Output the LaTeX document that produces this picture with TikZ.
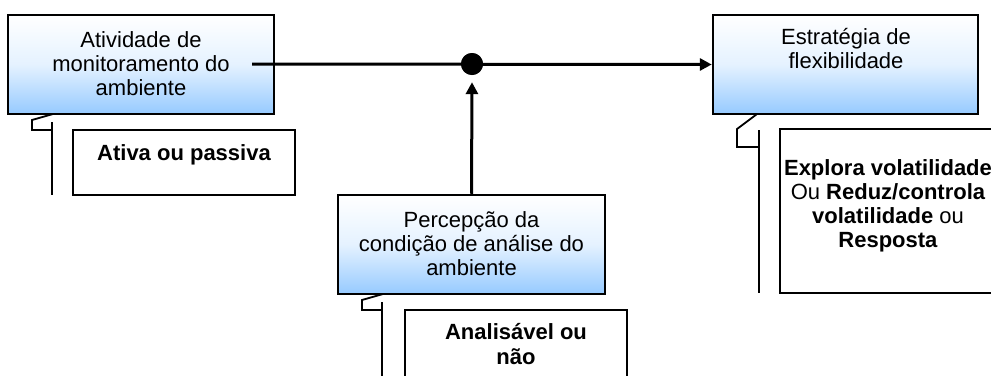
\documentclass[tikz,border=0pt]{standalone}
\usepackage{fontspec}
\setmainfont{Liberation Sans}
\usetikzlibrary{arrows.meta}
\definecolor{boxblue}{RGB}{150,202,255}
\begin{document}
\begin{tikzpicture}[x=1pt,y=-1pt,
  bluebox/.style={draw=black,line width=2.5pt,rectangle,inner sep=0pt,
    top color=white,bottom color=boxblue,middle color=boxblue!25!white},
  notebox/.style={draw=black,line width=2pt,rectangle,inner sep=0pt,fill=white},
  boxtext/.style={align=center,inner sep=0pt,font=\fontsize{22}{24}\selectfont},
  calloutline/.style={line width=1.8pt},
  conn/.style={line width=3pt},
  tip/.style={-{Triangle[length=12pt,width=12pt]}}]
\useasboundingbox (0,0) rectangle (991,375);
% main boxes
\node[bluebox,minimum width=266pt,minimum height=99pt] (b1) at (141,64.5) {};
\node[bluebox,minimum width=265pt,minimum height=99pt] (b2) at (845.5,64.5) {};
\node[bluebox,minimum width=267pt,minimum height=99pt] (b3) at (471.5,244.5) {};
\node[boxtext] (t1) at (141,64) {Atividade de\\monitoramento do\\ambiente};
\node[boxtext,anchor=north] (t2) at (846,28) {Estratégia de\\flexibilidade};
\node[boxtext] (t3) at (471.5,244) {Percepção da\\condição de análise do\\ambiente};
% note boxes
\node[notebox,minimum width=222pt,minimum height=65pt] (n1) at (184,162.5) {};
\node[boxtext,font=\fontsize{22}{24}\selectfont\bfseries] (nt1) at (184,155) {Ativa ou passiva};
\node[notebox,minimum width=240pt,minimum height=164pt] (n2) at (900,211) {};
\node[boxtext] (nt2) at (888,205.5) {\textbf{Explora volatilidade}\\Ou \textbf{Reduz/controla}\\\textbf{volatilidade} ou\\\textbf{Resposta}};
\node[notebox,minimum width=222pt,minimum height=90pt] (n3) at (516,355) {};
\node[boxtext,font=\fontsize{22}{25}\selectfont\bfseries] (nt3) at (516,344.5) {Analisável ou\\não};
% callout brackets
\draw[calloutline] (53,114) -- (32,120) -- (32,130) -- (52,130);
\draw[calloutline] (52,122) -- (52,195);
\draw[calloutline] (757,114) -- (737,129) -- (737,147) -- (759,147);
\draw[calloutline] (759,130) -- (759,293);
\draw[calloutline] (383,294) -- (362,300) -- (362,310) -- (382,310);
\draw[calloutline] (382,302) -- (382,380);
% connectors
\coordinate (m1) at (252,64);
\node[circle,fill=black,inner sep=0pt,minimum size=22pt] (dot) at (472,64) {};
\draw[conn,tip] (m1) -- (b2.west);
\fill (dot) circle (11);
\draw[conn,tip] (b3.north) -- ([yshift=-7pt]dot.south);
\end{tikzpicture}
\end{document}
